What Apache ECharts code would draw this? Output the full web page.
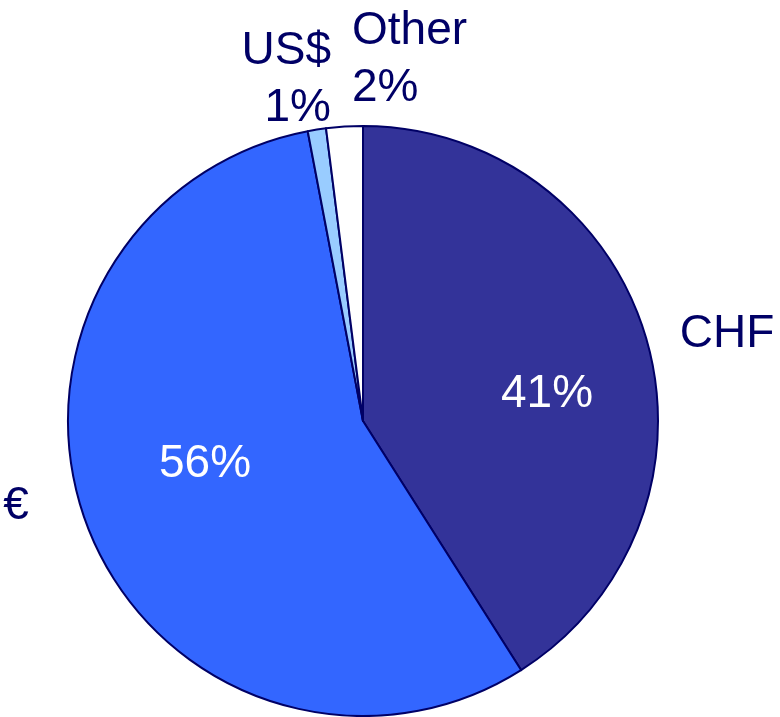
<!DOCTYPE html>
<html>
<head>
<meta charset="utf-8">
<script src="https://cdn.jsdelivr.net/npm/echarts@6/dist/echarts.min.js"></script>
<style>
  html, body { margin: 0; padding: 0; background: #ffffff; }
  #chart { width: 780px; height: 717px; }
</style>
</head>
<body>
<div id="chart"></div>
<script>
// Currency split, percent of total
const currencies = ['CHF', '€', 'US$', 'Other'];
const shares = [41, 56, 1, 2];
const sliceColors = ['#333399', '#3366FF', '#99CCFF', '#FFFFFF'];

// Label anchor points and horizontal alignment, in pixels
const nameLabelPos = [[727, 334, 'center'], [16, 506, 'center'], [331, 80, 'right'], [352, 60, 'left']];
const pctLabelPos = [[547, 394], [205, 464]];

const navy = '#000066';
const fontFamily = '"Liberation Sans", Arial, sans-serif';

const pieData = currencies.map((name, i) => ({
  name: name,
  value: shares[i],
  itemStyle: { color: sliceColors[i] }
}));

const chart = echarts.init(document.getElementById('chart'), null, { renderer: 'canvas' });

chart.setOption({
  animation: false,
  backgroundColor: '#ffffff',
  series: [
    {
      type: 'pie',
      center: [363, 421],
      radius: [0, 295],
      startAngle: 90,
      clockwise: true,
      avoidLabelOverlap: false,
      itemStyle: { borderColor: navy, borderWidth: 2 },
      emphasis: { disabled: true },
      labelLine: { show: false },
      label: {
        show: true,
        position: 'outside',
        color: navy,
        fontFamily: fontFamily,
        fontSize: 46,
        lineHeight: 57,
        formatter: (p) => p.value < 5 ? p.name + '\n' + p.value + '%' : p.name
      },
      labelLayout: (p) => ({
        x: nameLabelPos[p.dataIndex][0],
        y: nameLabelPos[p.dataIndex][1],
        align: nameLabelPos[p.dataIndex][2],
        verticalAlign: 'middle'
      }),
      data: pieData
    },
    {
      type: 'pie',
      center: [363, 421],
      radius: [0, 295],
      startAngle: 90,
      clockwise: true,
      silent: true,
      avoidLabelOverlap: false,
      itemStyle: { color: 'rgba(0,0,0,0)', borderWidth: 0 },
      emphasis: { disabled: true },
      labelLine: { show: false },
      label: {
        show: true,
        position: 'inside',
        color: '#ffffff',
        fontFamily: fontFamily,
        fontSize: 46,
        formatter: (p) => p.value >= 5 ? p.value + '%' : ''
      },
      labelLayout: (p) => p.dataIndex < pctLabelPos.length ? {
        x: pctLabelPos[p.dataIndex][0],
        y: pctLabelPos[p.dataIndex][1],
        align: 'center',
        verticalAlign: 'middle'
      } : {},
      data: currencies.map((name, i) => ({ name: name, value: shares[i] }))
    }
  ]
});
</script>
</body>
</html>
